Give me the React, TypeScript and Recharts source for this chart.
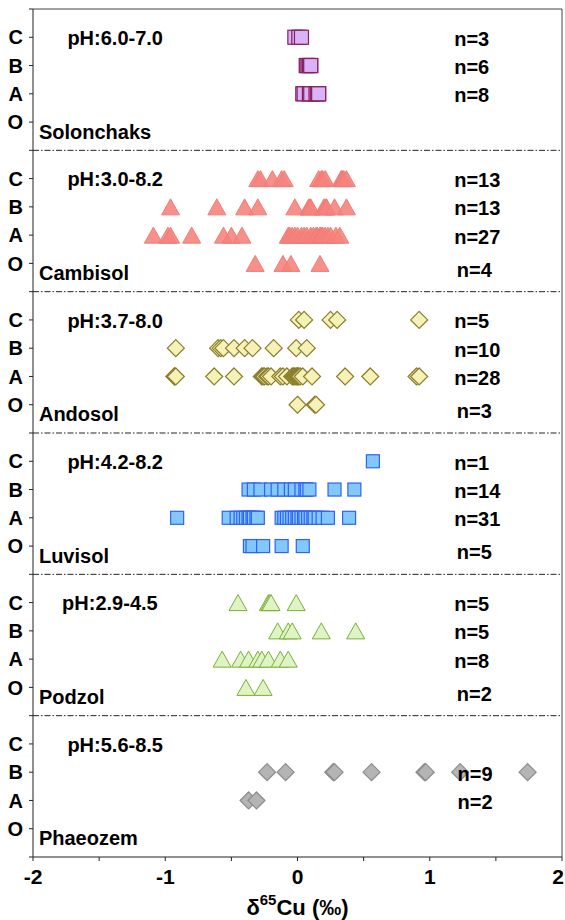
import React from "react";
import {
  ScatterChart,
  Scatter,
  XAxis,
  YAxis,
  ReferenceLine,
  ReferenceDot,
} from "recharts";

// soils from top to bottom; each holds horizons in order C, B, A, O
const soils = ["Solonchaks", "Cambisol", "Andosol", "Luvisol", "Podzol", "Phaeozem"];
const phRanges = ["pH:6.0-7.0", "pH:3.0-8.2", "pH:3.7-8.0", "pH:4.2-8.2", "pH:2.9-4.5", "pH:5.6-8.5"];
const horizons = ["C", "B", "A", "O"];

const solonchaks = [
  [-0.02, 0.01, 0.03],
  [0.066, 0.07, 0.08, 0.09, 0.1, 0.1],
  [0.04, 0.05, 0.09, 0.1, 0.14, 0.15, 0.16, 0.16],
  [],
];
const cambisol = [
  [-0.3, -0.28, -0.19, -0.12, -0.1, 0.16, 0.18, 0.19, 0.21, 0.33, 0.34, 0.35, 0.37],
  [-0.96, -0.61, -0.4, -0.3, -0.02, 0.085, 0.09, 0.1, 0.2, 0.21, 0.22, 0.28, 0.37],
  [-1.09, -0.98, -0.96, -0.8, -0.56, -0.5, -0.42, -0.07, -0.06, -0.04, -0.02, 0.0, 0.03, 0.05,
    0.07, 0.1, 0.12, 0.14, 0.15, 0.17, 0.18, 0.19, 0.21, 0.23, 0.25, 0.29, 0.32],
  [-0.32, -0.11, -0.05, 0.17],
];
const andosol = [
  [0.01, 0.05, 0.25, 0.3, 0.92],
  [-0.92, -0.6, -0.58, -0.56, -0.48, -0.4, -0.34, -0.18, -0.01, 0.07],
  [-0.93, -0.93, -0.92, -0.63, -0.48, -0.27, -0.26, -0.25, -0.23, -0.22, -0.2, -0.13, -0.11, -0.08,
    -0.04, -0.03, -0.02, -0.01, 0.0, 0.0, 0.01, 0.02, 0.04, 0.11, 0.36, 0.55, 0.9, 0.92],
  [0.0, 0.13, 0.14],
];
const luvisol = [
  [0.57],
  [-0.37, -0.33, -0.28, -0.2, -0.15, -0.1, -0.05, -0.02, 0.03, 0.06, 0.07, 0.09, 0.28, 0.43],
  [-0.91, -0.52, -0.46, -0.43, -0.41, -0.39, -0.37, -0.36, -0.34, -0.33, -0.31, -0.3, -0.12, -0.1,
    -0.08, -0.06, -0.04, -0.02, 0.0, 0.01, 0.03, 0.05, 0.06, 0.08, 0.1, 0.12, 0.13, 0.16, 0.19, 0.23, 0.39],
  [-0.36, -0.34, -0.26, -0.12, 0.04],
];
const podzol = [
  [-0.45, -0.22, -0.21, -0.2, -0.01],
  [-0.15, -0.07, -0.04, 0.18, 0.44],
  [-0.57, -0.43, -0.37, -0.3, -0.27, -0.22, -0.13, -0.07],
  [-0.39, -0.26],
];
const phaeozem = [
  [],
  [-0.23, -0.09, 0.27, 0.28, 0.56, 0.96, 0.97, 1.23, 1.74],
  [-0.37, -0.31],
  [],
];

// n labels per soil (C, B, A, O); empty = no label
const nLabels = [
  ["n=3", "n=6", "n=8", ""],
  ["n=13", "n=13", "n=27", "n=4"],
  ["n=5", "n=10", "n=28", "n=3"],
  ["n=1", "n=14", "n=31", "n=5"],
  ["n=5", "n=5", "n=8", "n=2"],
  ["", "n=9", "n=2", ""],
];

const allSoils = [solonchaks, cambisol, andosol, luvisol, podzol, phaeozem];
const xTicks = [-2, -1.5, -1, -0.5, 0, 0.5, 1, 1.5, 2];
const yTicks = Array.from({ length: 31 }, (_, i) => i);
const separators = [25, 20, 15, 10, 5];

const FONT = "'Liberation Sans', Arial, sans-serif";

// y position of a horizon row inside a soil panel
const rowY = (k: number, r: number) => 30 - 5 * k - (r + 1);

const square = (s: number, fill: string, stroke: string) => (p: any) => (
  <rect x={p.cx - s / 2} y={p.cy - s / 2} width={s} height={s} fill={fill} stroke={stroke} strokeWidth={1.2} />
);
const triangle = (w: number, h: number, fill: string, stroke: string, op = 1) => (p: any) => (
  <polygon
    points={`${p.cx},${p.cy - h / 2} ${p.cx + w / 2},${p.cy + h / 2} ${p.cx - w / 2},${p.cy + h / 2}`}
    fill={fill}
    stroke={stroke}
    strokeWidth={1}
    fillOpacity={op}
  />
);
const diamond = (s: number, fill: string, stroke: string) => (p: any) => (
  <polygon
    points={`${p.cx},${p.cy - s / 2} ${p.cx + s / 2},${p.cy} ${p.cx},${p.cy + s / 2} ${p.cx - s / 2},${p.cy}`}
    fill={fill}
    stroke={stroke}
    strokeWidth={1.2}
  />
);

const shapes = [
  square(14, "#D9B3F7", "#8A1E5E"),
  triangle(18, 16, "#F4847D", "#F27C75", 0.9),
  diamond(17, "#F6F1B6", "#8A7D2A"),
  square(13, "#82C8FA", "#2F62F5"),
  triangle(18, 16, "#DFF4C6", "#7AB033"),
  diamond(17, "#B4B4B4", "#8C8C8C"),
];

const textShape = (label: string, size = 20) => (p: any) => (
  <text
    x={p.cx}
    y={p.cy}
    fontFamily={FONT}
    fontWeight="bold"
    fontSize={size}
    fill="#000"
    dominantBaseline="central"
  >
    {label}
  </text>
);

const AxisTitle = (props: any) => {
  const vb = props.viewBox;
  return (
    <text
      x={vb.x + vb.width / 2}
      y={vb.y + 50}
      textAnchor="middle"
      fontFamily={FONT}
      fontWeight="bold"
      fontSize={22}
      fill="#000"
      dominantBaseline="central"
    >
      δ<tspan fontSize={15} dy={-8}>65</tspan>
      <tspan dy={8}>Cu (‰)</tspan>
    </text>
  );
};

// x tick: integers only, last one nudged so it stays inside the page
const XTick = (props: any) => {
  const { x, y, payload } = props;
  const v = payload.value;
  if (!Number.isInteger(v)) return null;
  return (
    <text
      x={v === 2 ? x - 4 : x}
      y={y + 11}
      textAnchor="middle"
      fontFamily={FONT}
      fontWeight="bold"
      fontSize={21}
      fill="#000"
      dominantBaseline="central"
    >
      {`${v}`}
    </text>
  );
};

const yLabel = (v: number) => {
  const m = v % 5;
  return m === 0 ? "" : horizons[4 - m];
};

export default function App() {
  const series = allSoils.map((soil, k) =>
    soil.flatMap((vals, r) => vals.map((x) => ({ x, y: rowY(k, r) })))
  );

  return (
    <div style={{ position: "absolute", left: 0, top: 0 }}>
      <ScatterChart width={565} height={920} margin={{ top: 9, right: 3, bottom: 0, left: 0 }}>
        <XAxis
          type="number"
          dataKey="x"
          domain={[-2, 2]}
          ticks={xTicks}
          interval={0}
          height={63}
          tickSize={4}
          tickMargin={4}
          axisLine={{ stroke: "#222" }}
          tickLine={{ stroke: "#222" }}
          tick={<XTick />}
          label={<AxisTitle />}
        />
        <YAxis
          type="number"
          dataKey="y"
          domain={[0, 30]}
          ticks={yTicks}
          interval={0}
          tickFormatter={yLabel}
          width={33}
          tickSize={4}
          tickMargin={6}
          axisLine={{ stroke: "#222" }}
          tickLine={{ stroke: "#222" }}
          tick={{ fill: "#000", fontFamily: FONT, fontWeight: "bold", fontSize: 20 }}
        />
        <ReferenceLine y={30} stroke="#444" strokeWidth={1} />
        <ReferenceLine x={2} stroke="#444" strokeWidth={1} />
        {separators.map((s) => (
          <ReferenceLine key={s} y={s} stroke="#222" strokeWidth={1} strokeDasharray="6 2 1.5 2" />
        ))}
        {series.map((data, k) => (
          <Scatter key={soils[k]} data={data} shape={shapes[k]} isAnimationActive={false} />
        ))}
        {soils.map((name, k) => (
          <ReferenceDot
            key={`ph-${k}`}
            x={k === 4 ? -1.78 : -1.74}
            y={rowY(k, 0) - 0.03}
            r={0}
            shape={textShape(phRanges[k])}
          />
        ))}
        {soils.map((name, k) => (
          <ReferenceDot key={`name-${k}`} x={-1.955} y={rowY(k, 3) - 0.34} r={0} shape={textShape(name)} />
        ))}
        {nLabels.flatMap((row, k) =>
          row.map((lab, r) =>
            lab ? (
              <ReferenceDot
                key={`n-${k}-${r}`}
                x={k === 5 ? 1.21 : r === 3 ? 1.205 : 1.185}
                y={rowY(k, r) - (r === 3 ? 0.22 : 0.05)}
                r={0}
                shape={textShape(lab)}
              />
            ) : null
          )
        )}
      </ScatterChart>
    </div>
  );
}
